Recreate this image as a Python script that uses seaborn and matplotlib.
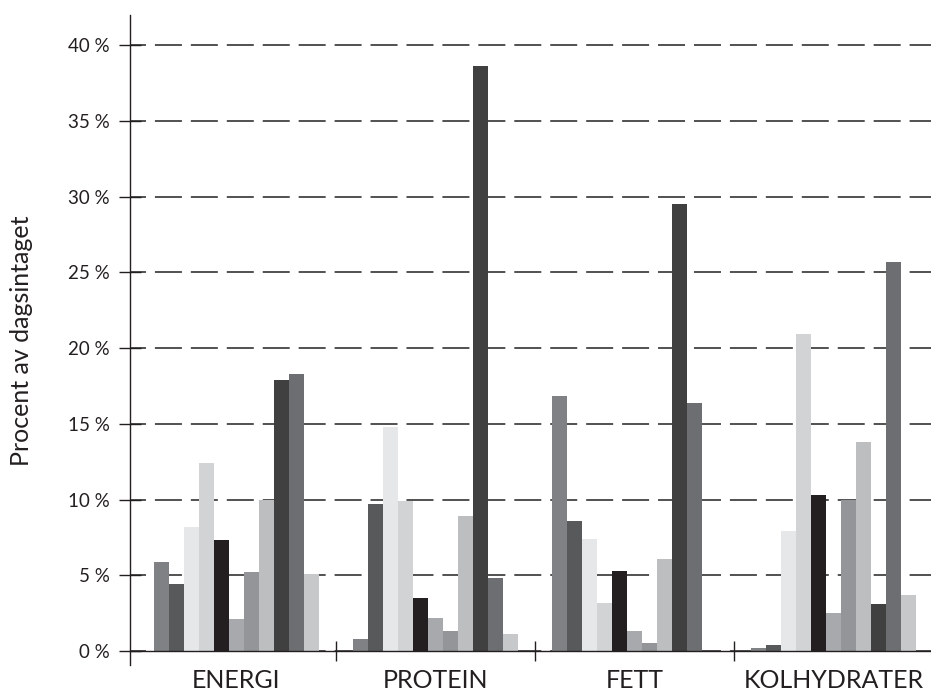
import pandas as pd
import seaborn as sns
import matplotlib.pyplot as plt
from matplotlib.ticker import FuncFormatter

# Andel av dagsintaget per livsmedelsgrupp (11 serier) och näringsämne
categories = ["ENERGI", "PROTEIN", "FETT", "KOLHYDRATER"]
series = ["g1", "g2", "g3", "g4", "g5", "g6", "g7", "g8", "g9", "g10", "g11"]
energi = [5.9, 4.4, 8.2, 12.4, 7.3, 2.1, 5.2, 10.0, 17.9, 18.3, 5.1]
protein = [0.8, 9.7, 14.8, 9.9, 3.5, 2.2, 1.3, 8.9, 38.6, 4.8, 1.1]
fett = [16.8, 8.6, 7.4, 3.2, 5.3, 1.3, 0.5, 6.1, 29.5, 16.4, 0.0]
kolhydrater = [0.2, 0.4, 7.9, 20.9, 10.3, 2.5, 10.0, 13.8, 3.1, 25.7, 3.7]
yticks = [0, 5, 10, 15, 20, 25, 30, 35, 40]

colors = ["#808184", "#58595b", "#e6e7e8", "#d1d3d4", "#231f20", "#a7a9ac",
          "#939598", "#bcbec0", "#404041", "#6d6e71", "#c7c8ca"]

rows = []
for cat, vals in zip(categories, [energi, protein, fett, kolhydrater]):
    for s, v in zip(series, vals):
        rows.append({"kategori": cat, "serie": s, "procent": v})
df = pd.DataFrame(rows)

sns.set_theme(style="white")
plt.rcParams["font.family"] = ["Lato", "DejaVu Sans"]
txt = "#231f20"

fig = plt.figure(figsize=(9.31, 6.93), dpi=100)
ax = fig.add_axes([130 / 931, 27.6 / 693, 801 / 931, 650.7 / 693])

sns.barplot(data=df, x="kategori", y="procent", hue="serie", order=categories,
            hue_order=series, palette=colors, saturation=1, width=0.83, gap=0,
            linewidth=0, legend=False, errorbar=None, ax=ax)

ax.set_ylim(-0.95, 42)
ax.set_xlim(-0.535, 3.49)
ax.spines["bottom"].set_position(("data", 0))
for s in ["top", "right"]:
    ax.spines[s].set_visible(False)
for s in ["left", "bottom"]:
    ax.spines[s].set_color(txt)
    ax.spines[s].set_linewidth(1.0)

ax.set_yticks(yticks)
ax.yaxis.set_major_formatter(FuncFormatter(lambda v, p: f"{int(v)} %"))
ax.tick_params(axis="y", direction="inout", length=16, width=1.0, color=txt,
               labelsize=13.5, labelcolor=txt, pad=6.5, left=True)
ax.tick_params(axis="x", which="major", length=0, labelsize=18, labelcolor=txt, pad=13)
ax.set_xticks([0.5, 1.5, 2.5], minor=True)
ax.tick_params(axis="x", which="minor", direction="inout", length=15, width=1.0,
               color=txt, bottom=True)
# the first group label sits a little left of its bars in the original
for lab in ax.get_xticklabels():
    if lab.get_text() == "ENERGI":
        lab.set_x(-0.045)

ax.set_axisbelow(True)
ax.yaxis.grid(True, color="#2a2a2a", linewidth=1.15, linestyle=(6.9, (16.9, 5.6)))
ax.xaxis.grid(False)

ax.set_xlabel("")
ax.set_ylabel("")
fig.text(22 / 931, 0.508, "Procent av dagsintaget", rotation=90, ha="center",
         va="center", fontsize=18, color=txt)

plt.savefig("out.png", dpi=100)
